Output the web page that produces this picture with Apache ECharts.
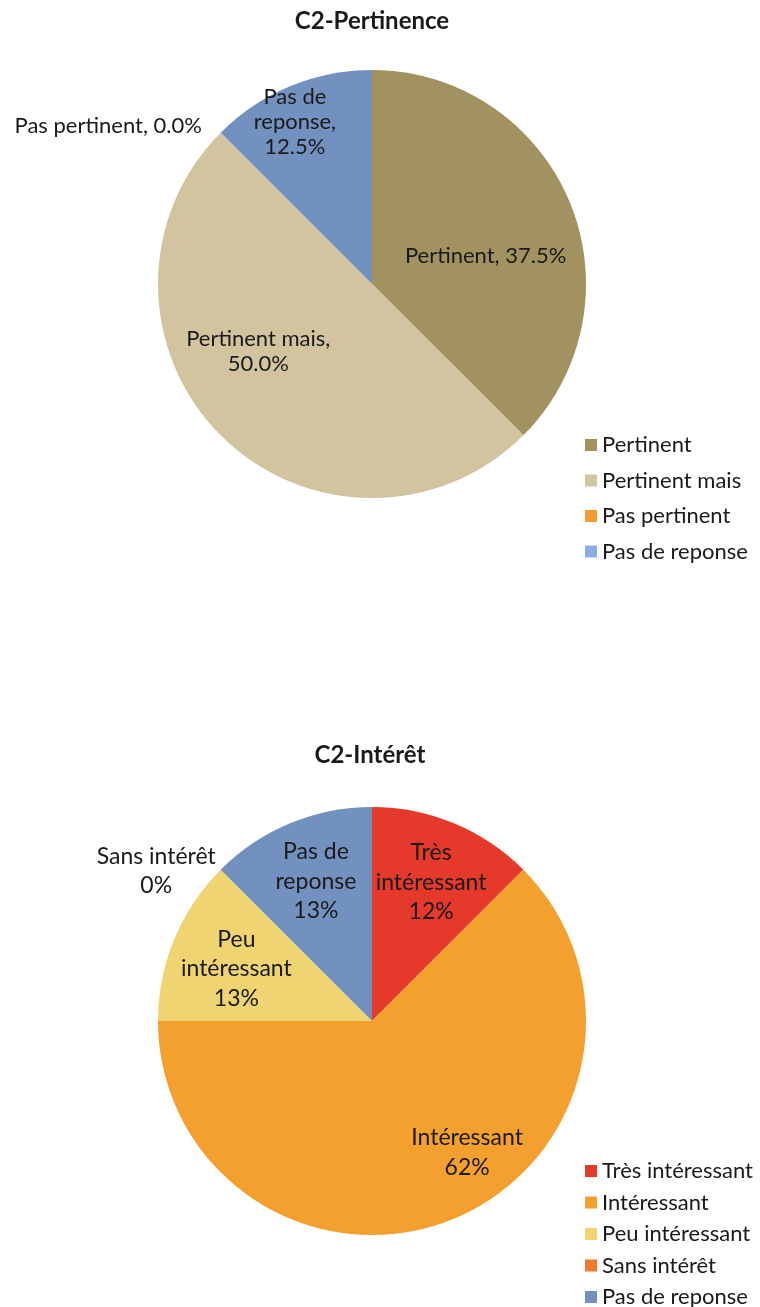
<!DOCTYPE html>
<html><head><meta charset="utf-8">
<script src="https://cdn.jsdelivr.net/npm/echarts@6/dist/echarts.min.js"></script>
<style>html,body{margin:0;padding:0;background:#fff}#c{width:760px;height:1307px}</style>
</head><body><div id="c"></div>
<script>
// Chart 1 data
const cat1 = ['Pertinent', 'Pertinent mais', 'Pas pertinent', 'Pas de reponse'];
const val1 = [37.5, 50.0, 0.0, 12.5];
const lbl1 = ['Pertinent, 37.5%', 'Pertinent mais,\n50.0%', 'Pas pertinent, 0.0%', 'Pas de\nreponse,\n12.5%'];
// Chart 2 data
const cat2 = ['Très intéressant', 'Intéressant', 'Peu intéressant', 'Sans intérêt', 'Pas de reponse'];
const val2 = [12.5, 62.5, 12.5, 0, 12.5];
const lbl2 = ['Très\nintéressant\n12%', 'Intéressant\n62%', 'Peu\nintéressant\n13%', 'Sans intérêt\n0%', 'Pas de\nreponse\n13%'];

const col1 = ['#A2925F', '#D1C49F', '#F39B2E', '#7391BF'];
const legCol1 = ['#A2925F', '#D1C49F', '#F39B2E', '#8DAEE3'];
const off1 = [[12, 14], [-36, -10], [-186, -80], [-35, -60]];
const col2 = ['#E5392B', '#F3A02E', '#F0D472', '#EE7A2F', '#7391BF'];
const off2 = [[17, -37], [53, 30], [-34, -10], [-138, -72], [-14, -38]];

const FONT = 'Lato, "Open Sans", sans-serif';
const chart = echarts.init(document.getElementById('c'), null, {renderer: 'canvas'});

function mkData(cats, vals, cols, offs, lbls, fs, lh) {
  return cats.map((n, i) => ({
    name: n, value: vals[i],
    itemStyle: {color: cols[i]},
    label: {offset: offs[i], formatter: lbls[i], fontSize: fs, lineHeight: lh}
  }));
}

chart.setOption({
  animation: false,
  title: [
    {text: 'C2-Pertinence', left: 367, top: 4, textAlign: 'center',
     textStyle: {fontFamily: FONT, fontSize: 24, fontWeight: 'bold', color: '#1a1a1a'}},
    {text: 'C2-Intérêt', left: 365, top: 738, textAlign: 'center',
     textStyle: {fontFamily: FONT, fontSize: 24, fontWeight: 'bold', color: '#1a1a1a'}}
  ],
  legend: [
    {orient: 'vertical', left: 580, top: 429, height: 200, itemWidth: 12, itemHeight: 12, itemGap: 13.5,
     icon: 'rect', selectedMode: false,
     data: cat1.map((n, i) => ({name: n, itemStyle: {color: legCol1[i]}})),
     textStyle: {fontFamily: FONT, fontSize: 22, color: '#1a1a1a', lineHeight: 22}},
    {orient: 'vertical', left: 580, top: 1155, height: 200, itemWidth: 12, itemHeight: 12, itemGap: 9.5,
     icon: 'rect', selectedMode: false,
     data: cat2,
     textStyle: {fontFamily: FONT, fontSize: 22, color: '#1a1a1a', lineHeight: 22}}
  ],
  series: [
    {type: 'pie', center: [372, 284], radius: 214, startAngle: 90, clockwise: true,
     avoidLabelOverlap: false,
     labelLayout: {hideOverlap: false},
     itemStyle: {borderWidth: 0},
     label: {position: 'inside', color: '#1a1a1a', fontFamily: FONT},
     labelLine: {show: false},
     emphasis: {disabled: true},
     data: mkData(cat1, val1, col1, off1, lbl1, 22, 25)},
    {type: 'pie', center: [372, 1021], radius: 214, startAngle: 90, clockwise: true,
     avoidLabelOverlap: false,
     labelLayout: {hideOverlap: false},
     itemStyle: {borderWidth: 0},
     label: {position: 'inside', color: '#1a1a1a', fontFamily: FONT},
     labelLine: {show: false},
     emphasis: {disabled: true},
     data: mkData(cat2, val2, col2, off2, lbl2, 23, 29.5)}
  ]
});
</script></body></html>
